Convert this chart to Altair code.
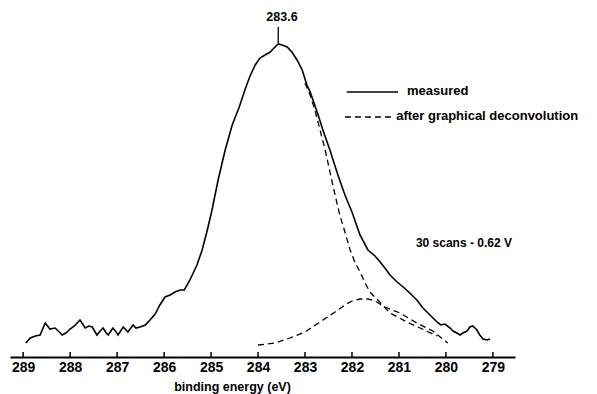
import altair as alt
import pandas as pd

# measured spectrum (binding energy eV, intensity arb. units)
meas_e = [288.94, 288.85, 288.74, 288.64, 288.53, 288.43, 288.32, 288.23, 288.17, 288.09,
          288.00, 287.91, 287.83, 287.79, 287.68, 287.60, 287.53, 287.43, 287.36, 287.30,
          287.23, 287.19, 287.09, 287.02, 286.98, 286.87, 286.81, 286.77, 286.66, 286.60,
          286.51, 286.40, 286.30, 286.19, 286.09, 285.98, 285.87, 285.77, 285.66, 285.57,
          285.45, 285.30, 285.19, 285.09, 284.98, 284.85, 284.70, 284.55, 284.40, 284.28,
          284.17, 284.06, 283.96, 283.85, 283.74, 283.66, 283.57, 283.49, 283.38, 283.28,
          283.17, 283.06, 282.96, 282.89, 282.83, 282.72, 282.62, 282.47, 282.30, 282.15,
          282.00, 281.83, 281.66, 281.51, 281.40, 281.30, 281.19, 281.04, 280.91, 280.77,
          280.62, 280.49, 280.34, 280.19, 280.11, 280.02, 279.91, 279.85, 279.77, 279.70,
          279.64, 279.55, 279.49, 279.43, 279.34, 279.28, 279.21, 279.13, 279.06]
meas_i = [14, 19, 21, 22, 34, 28, 29, 25, 22, 24,
          28, 31, 35, 37, 29, 31, 30, 22, 26, 29,
          24, 22, 29, 25, 22, 30, 27, 25, 32, 29,
          30, 32, 37, 43, 52, 60, 62, 65, 67, 67,
          77, 92, 107, 125, 147, 177, 207, 232, 250, 267,
          281, 292, 299, 302, 305, 309, 313, 312, 310, 305,
          297, 287, 272, 265, 257, 242, 227, 207, 182, 162,
          145, 122, 107, 101, 95, 89, 82, 75, 70, 64,
          57, 49, 42, 35, 32, 33, 29, 26, 24, 22,
          24, 26, 30, 31, 27, 22, 18, 17, 18]

# deconvoluted components
main_e = [283.00, 282.89, 282.79, 282.68, 282.57, 282.47, 282.36, 282.26, 282.15, 282.04,
          281.94, 281.83, 281.72, 281.62, 281.45, 281.19, 280.83, 280.55, 280.19]
main_i = [274, 262, 247, 227, 207, 185, 162, 142, 125, 107,
          95, 85, 74, 65, 57, 44, 35, 29, 21]
sec_e = [284.00, 283.64, 283.32, 283.00, 282.68, 282.36, 282.15, 282.00, 281.83, 281.66,
         281.51, 281.30, 280.98, 280.62, 280.28, 279.96]
sec_i = [12, 14, 19, 25, 35, 45, 52, 56, 58, 58,
         56, 50, 44, 34, 26, 14]

tick_vals = [289, 288, 287, 286, 285, 284, 283, 282, 281, 280, 279]
x_domain = [278.53, 289.28]
y_domain = [0, 347]

legend_labels = ["measured", "after graphical deconvolution"]
note_label = "30 scans - 0.62 V"
peak_label = "283.6"

FONT = "Liberation Sans"

meas = pd.DataFrame({"e": meas_e, "i": meas_i, "o": range(len(meas_e))})
comp = pd.concat([
    pd.DataFrame({"e": main_e, "i": main_i, "c": "main", "o": range(len(main_e))}),
    pd.DataFrame({"e": sec_e, "i": sec_i, "c": "second", "o": range(len(sec_e))}),
])
ticks = pd.DataFrame({"e": tick_vals, "y0": 0, "y1": 5})

xs = alt.Scale(domain=x_domain, reverse=True, nice=False, zero=False)
ys = alt.Scale(domain=y_domain, nice=False, zero=False)

x_axis = alt.Axis(values=tick_vals, format="d", ticks=False, grid=False,
                  domainColor="black", domainWidth=2, labelFont=FONT, labelFontSize=14,
                  labelFontWeight="bold", labelColor="black", labelPadding=3,
                  title="binding energy (eV)", titleFont=FONT, titleFontSize=12.5,
                  titleFontWeight="bold", titleColor="black", titlePadding=6,
                  titleX=222, titleAnchor="start", titleAlign="center")

line_meas = alt.Chart(meas).mark_line(color="black", strokeWidth=1.6).encode(
    x=alt.X("e:Q", scale=xs, axis=x_axis),
    y=alt.Y("i:Q", scale=ys, axis=None),
    order="o:Q",
)

line_comp = alt.Chart(comp).mark_line(color="black", strokeWidth=1.3, strokeDash=[6, 4]).encode(
    x=alt.X("e:Q", scale=xs),
    y=alt.Y("i:Q", scale=ys),
    detail="c:N",
    order="o:Q",
)

tick_rules = alt.Chart(ticks).mark_rule(color="black", strokeWidth=1.5).encode(
    x=alt.X("e:Q", scale=xs), y=alt.Y("y0:Q", scale=ys), y2="y1:Q"
)

# peak annotation
peak_line = alt.Chart(pd.DataFrame({"e": [283.57], "a": [314], "b": [330]})).mark_rule(
    color="black", strokeWidth=1.3).encode(x=alt.X("e:Q", scale=xs), y=alt.Y("a:Q", scale=ys), y2="b:Q")
peak_text = alt.Chart(pd.DataFrame({"e": [283.49], "i": [340], "t": [peak_label]})).mark_text(
    font=FONT, fontSize=12.5, fontWeight="bold", color="black", align="center", baseline="middle"
).encode(x=alt.X("e:Q", scale=xs), y=alt.Y("i:Q", scale=ys), text="t:N")

# legend
leg_solid = alt.Chart(pd.DataFrame({"a": [282.11], "b": [281.02], "i": [265]})).mark_rule(
    color="black", strokeWidth=1.6).encode(x=alt.X("a:Q", scale=xs), x2="b:Q", y=alt.Y("i:Q", scale=ys))
leg_dash = alt.Chart(pd.DataFrame({"a": [282.15], "b": [281.11], "i": [240]})).mark_rule(
    color="black", strokeWidth=1.6, strokeDash=[6, 4]).encode(x=alt.X("a:Q", scale=xs), x2="b:Q", y=alt.Y("i:Q", scale=ys))
leg_df = pd.DataFrame({"e": [280.83, 281.06], "i": [266, 241], "t": legend_labels})
leg_text = alt.Chart(leg_df).mark_text(
    font=FONT, fontSize=13, fontWeight="bold", color="black", align="left", baseline="middle"
).encode(x=alt.X("e:Q", scale=xs), y=alt.Y("i:Q", scale=ys), text="t:N")
note_text = alt.Chart(pd.DataFrame({"e": [280.64], "i": [114], "t": [note_label]})).mark_text(
    font=FONT, fontSize=12, fontWeight="bold", color="black", align="left", baseline="middle"
).encode(x=alt.X("e:Q", scale=xs), y=alt.Y("i:Q", scale=ys), text="t:N")

chart = alt.layer(
    line_meas, line_comp, tick_rules, peak_line, peak_text, leg_solid, leg_dash, leg_text, note_text
).properties(
    width=505, height=347,
    padding={"left": 2, "top": 2, "right": 2, "bottom": 2},
    background="white",
).configure_view(stroke=None)

chart.save("out.html", embed_options={"renderer": "svg", "actions": False})
